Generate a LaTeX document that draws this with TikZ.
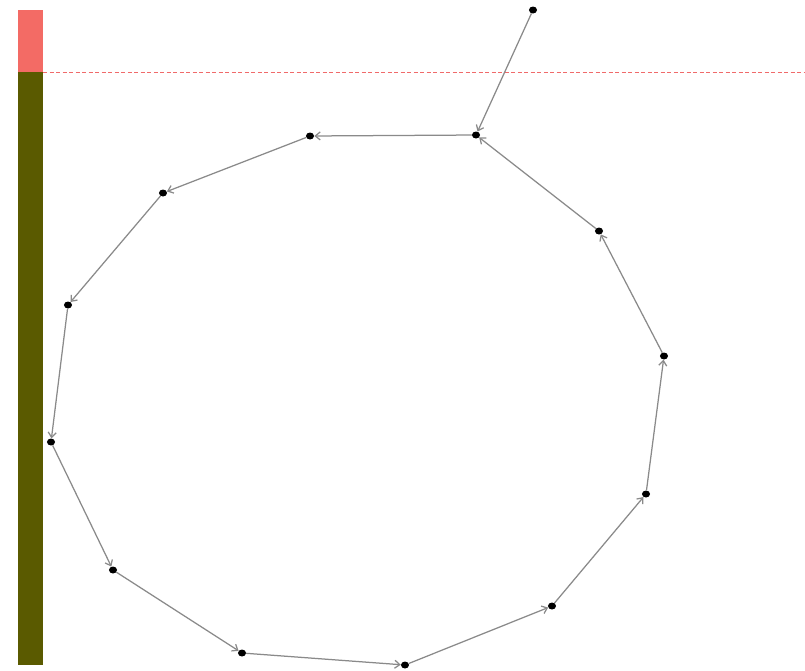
\documentclass[tikz,border=0pt]{standalone}
\usetikzlibrary{arrows.meta}
\definecolor{barred}{HTML}{F36B65}
\definecolor{barolive}{HTML}{5A5A00}
\definecolor{dashred}{HTML}{F06A6A}
\definecolor{edgegray}{HTML}{8A8A8A}
\begin{document}
\begin{tikzpicture}[x=1pt,y=-1pt,
  pt/.style={circle,fill=black,draw=none,minimum size=7pt,inner sep=0pt,xscale=1.15},
  edge/.style={draw=edgegray,line width=1.25pt,-{Straight Barb[length=5pt,width=8pt]}}]
\useasboundingbox (0,0) rectangle (805,670);
\fill[barred] (18,10) rectangle (43,72);
\fill[barolive] (18,72) rectangle (43,665);
\draw[dashred,line width=0.8pt,dash pattern=on 4pt off 2.5pt] (43,72) -- (805,72);
\node[pt] (p0) at (533,10) {};
\node[pt] (p1) at (476,135) {};
\node[pt] (p2) at (310,136) {};
\node[pt] (p3) at (163,193) {};
\node[pt] (p4) at (68,305) {};
\node[pt] (p5) at (51,442) {};
\node[pt] (p6) at (113,570) {};
\node[pt] (p7) at (242,653) {};
\node[pt] (p8) at (405,665) {};
\node[pt] (p9) at (552,606) {};
\node[pt] (p10) at (646,494) {};
\node[pt] (p11) at (664,356) {};
\node[pt] (p12) at (599,231) {};
\foreach \a/\b in {p0/p1,p1/p2,p2/p3,p3/p4,p4/p5,p5/p6,p6/p7,p7/p8,p8/p9,p9/p10,p10/p11,p11/p12,p12/p1}
  \path[edge] (\a) -- (\b);
\end{tikzpicture}
\end{document}
